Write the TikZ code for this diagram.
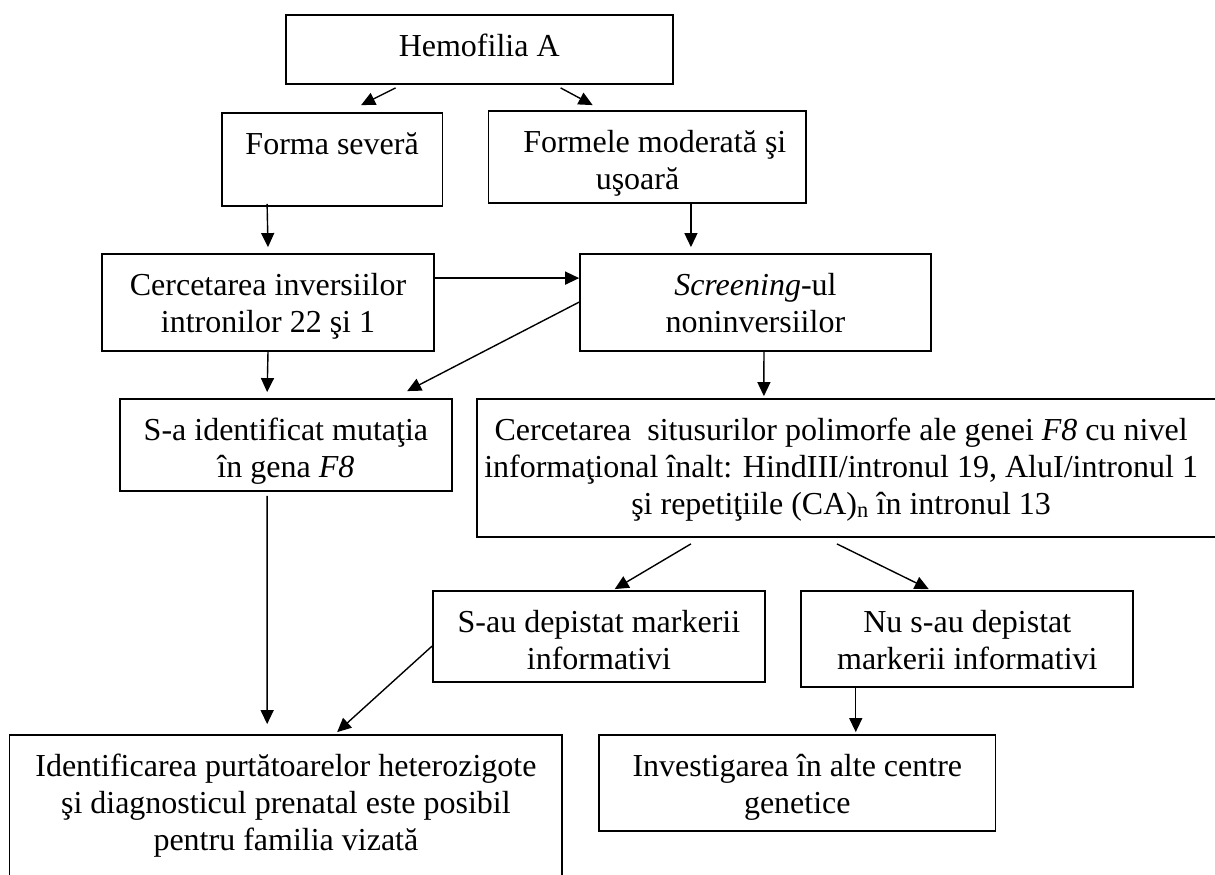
\documentclass[tikz,border=0pt]{standalone}
\usepackage{fontspec}
\setmainfont{Liberation Serif}
\usetikzlibrary{calc,arrows.meta}
\begin{document}
\begin{tikzpicture}[x=1pt,y=-1pt,
  box/.style={draw,line width=1.8pt,inner sep=0pt},
  txt/.style={anchor=north,inner sep=0pt,align=center,font=\fontsize{32}{37}\selectfont},
  arr/.style={line width=1.4pt,-{Triangle[length=14pt,width=13pt]}}]
\useasboundingbox (0,0) rectangle (1215,875);
\clip (0,0) rectangle (1215,875);
% boxes
\node[box,minimum width=386.8pt,minimum height=69pt] (H) at (479.2,49.5) {};
\node[box,minimum width=220.6pt,minimum height=93pt] (FS) at (332.1,159.5) {};
\node[box,minimum width=317.3pt,minimum height=92pt] (FM) at (647.2,157) {};
\node[box,minimum width=332pt,minimum height=97pt] (CI) at (268,302.5) {};
\node[box,minimum width=350.7pt,minimum height=97pt] (SC) at (755.4,302.5) {};
\node[box,minimum width=332.1pt,minimum height=92pt] (SI) at (285.9,445) {};
\node[box,minimum width=753.2pt,minimum height=138pt] (CS) at (853.4,468) {};
\node[box,minimum width=331.9pt,minimum height=91pt] (SD) at (598.9,636.5) {};
\node[box,minimum width=331.9pt,minimum height=96pt] (NU) at (967.3,639) {};
\node[box,minimum width=552.7pt,minimum height=165pt] (ID) at (285.9,817.5) {};
\node[box,minimum width=396.5pt,minimum height=96pt] (IN) at (797.3,783) {};
% texts
\node[txt] (tH) at ($(H.north)+(0,16)$) {\strut Hemofilia A};
\node[txt] (tFS) at ($(FS.north)+(0,16)$) {\strut Forma severă};
\node[txt] (tFMa) at ($(FM.north)+(7.6,16)$) {\strut Formele moderată şi};
\node[txt] (tFMb) at ($(FM.north)+(-9.7,53)$) {\strut uşoară};
\node[txt] (tCI) at ($(CI.north)+(0,16)$) {\strut Cercetarea inversiilor\\intronilor 22 şi 1};
\node[txt] (tSC) at ($(SC.north)+(0,16)$) {\strut\textit{Screening}-ul\\noninversiilor};
\node[txt] (tSI) at ($(SI.north)+(0,16)$) {\strut S-a identificat mutaţia\\în gena \textit{F8}};
\node[txt] (tCS) at ($(CS.north west)+(365.2,16)$) {\strut Cercetarea\ \ situsurilor polimorfe ale genei \textit{F8} cu nivel\\informaţional înalt: HindIII/intronul 19, AluI/intronul 1\\şi repetiţiile (CA)\textsubscript{n} în intronul 13};
\node[txt] (tSD) at ($(SD.north)+(0,16)$) {\strut S-au depistat markerii\\informativi};
\node[txt] (tNU) at ($(NU.north)+(0,16)$) {\strut Nu s-au depistat\\markerii informativi};
\node[txt] (tID) at ($(ID.north)+(0,16)$) {\strut Identificarea purtătoarelor heterozigote\\şi diagnosticul prenatal este posibil\\pentru familia vizată};
\node[txt] (tIN) at ($(IN.north)+(0,16)$) {\strut Investigarea în alte centre\\genetice};
% connectors
\draw[arr] ($(H.south west)+(110.7,3)$) -- ($(FS.north west)+(140.2,-7)$);
\draw[arr] ($(H.south west)+(275.7,3)$) -- ($(FM.north west)+(105,-5)$);
\draw[arr] ($(FS.south west)+(46.2,-3)$) -- ($(CI.north)+(0,-6)$);
\draw[arr] ($(FM.south west)+(203.3,0)$) -- ($(SC.north west)+(111.8,-6)$);
\draw[arr] ($(CI.north east)+(0,25)$) -- ($(SC.north west)+(0,25)$);
\draw[arr] ($(SC.north west)+(0,49)$) -- ($(SI.north west)+(288.2,-7)$);
\draw[arr] (CI.south) -- ($(SI.north west)+(148.2,-6)$);
\draw[arr] ($(SC.south west)+(184.8,0)$) -- ($(CS.north west)+(288,-2)$);
\draw[arr] ($(SI.south west)+(148.2,4)$) -- ($(ID.north west)+(258.5,-10)$);
\draw[arr] ($(CS.south west)+(215,6)$) -- ($(SD.north west)+(182.6,-1)$);
\draw[arr] ($(CS.south west)+(361,6)$) -- ($(NU.north west)+(128.3,-1)$);
\draw[arr] ($(SD.north west)+(0,56)$) -- ($(ID.north west)+(328.5,-2)$);
\draw[arr] ($(NU.south west)+(55.3,0)$) -- ($(IN.north west)+(257.6,-2)$);
\end{tikzpicture}
\end{document}
